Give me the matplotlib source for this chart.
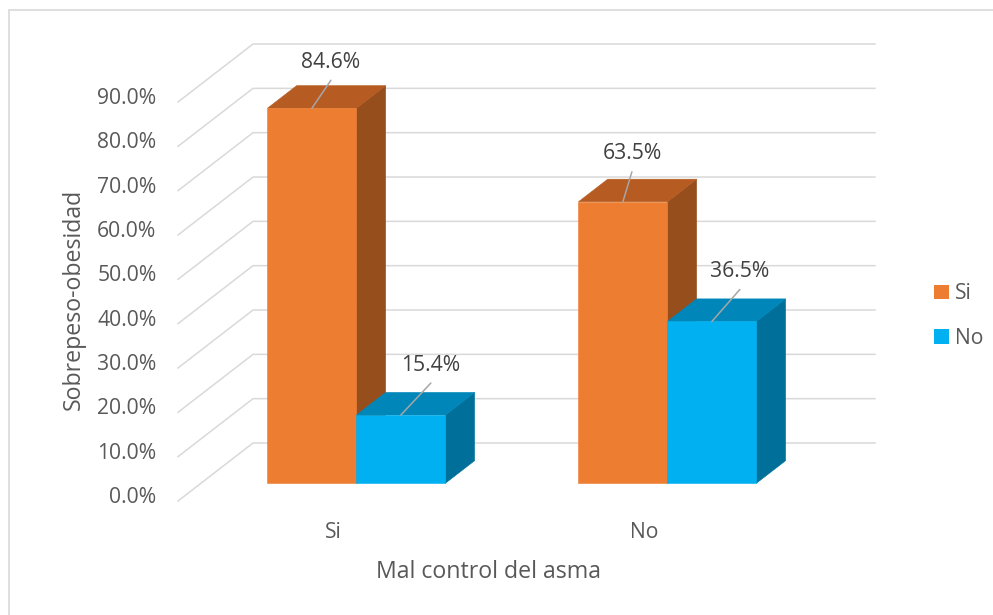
import matplotlib.pyplot as plt
from matplotlib.patches import Polygon, Rectangle, Patch

# data
categories = ["Si", "No"]
series = ["Si", "No"]
values_si = [84.6, 63.5]   # orange series
values_no = [15.4, 36.5]   # blue series
y_ticks = [0, 10, 20, 30, 40, 50, 60, 70, 80, 90]

# styling
front_col = ["#ED7D31", "#00B0F0"]
top_col = ["#B65C22", "#0086B8"]
side_col = ["#974E1D", "#006F99"]
grid_col = "#D9D9D9"
text_col = "#595959"
font = "Open Sans"
fs = 15.2

# pseudo 3d geometry (in data units)
DX = 0.2412     # x shift of full depth
DY = 13.08      # y shift of full depth (percent units)
F = 0.305       # bar front depth fraction
B = 0.695       # bar back depth fraction
W = 0.286       # bar width

# label offsets (pixels) for the leader lines, one per bar
label_offsets = [[(19, -28), (30, -32)], [(9, -30), (28, -32)]]

fig = plt.figure(figsize=(9.93, 6.15), dpi=100)
ax = fig.add_axes([178 / 993, 1 - 501 / 615, 622 / 993, 399 / 615])
ax.set_xlim(0, 2)
ax.set_ylim(0, 90)
ax.axis("off")


def P(x, y, d):
    return (x + d * DX, y + d * DY)


# back wall + side wall gridlines
for t in y_ticks:
    xs, ys = zip(P(0, t, 0), P(0, t, 1), P(2, t, 1))
    ax.plot(xs, ys, color=grid_col, lw=1.1, clip_on=False, zorder=1)
    ax.annotate(f"{t:.1f}%", xy=(0, t), xytext=(-15.5, 2.5), textcoords="offset points",
                ha="right", va="center", fontsize=fs, color=text_col, family=font)

# bars
z = 2
for i, c in enumerate(categories):
    center = i + 0.5
    for s, vals in enumerate([values_si, values_no]):
        v = vals[i]
        x0 = center - W + s * W
        x1 = x0 + W
        front = [P(x0, 0, F), P(x1, 0, F), P(x1, v, F), P(x0, v, F)]
        top = [P(x0, v, F), P(x1, v, F), P(x1, v, B), P(x0, v, B)]
        side = [P(x1, 0, F), P(x1, 0, B), P(x1, v, B), P(x1, v, F)]
        for poly, col in [(side, side_col[s]), (top, top_col[s]), (front, front_col[s])]:
            ax.add_patch(Polygon(poly, closed=True, facecolor=col, edgecolor=col,
                                 lw=0.4, clip_on=False, zorder=z))
        z += 1

        # data label with leader line
        anchor = P((x0 + x1) / 2, v, F)
        dx, dy = label_offsets[i][s]
        ax.annotate("", xy=anchor, xytext=(dx * 0.72, -dy * 0.72), textcoords="offset points",
                    arrowprops=dict(arrowstyle="-", color="#A6A6A6", lw=1.1,
                                    shrinkA=0, shrinkB=0), zorder=20)
        ax.annotate(f"{v:.1f}%", xy=anchor, xytext=(dx * 0.72, (-dy + 18) * 0.72),
                    textcoords="offset points", ha="center", va="center",
                    fontsize=fs, color="#404040", family=font, zorder=21)

    # category label
    ax.annotate(c, xy=(center, 0), xytext=(0, -22.5), textcoords="offset points",
                ha="center", va="center", fontsize=fs, color=text_col, family=font)

# axis titles
fig.text(489 / 993, 1 - 572 / 615, "Mal control del asma", ha="center", va="center",
         fontsize=16.7, color=text_col, family=font)
fig.text(74 / 993, 1 - 299 / 615, "Sobrepeso-obesidad", ha="center", va="center",
         rotation=90, fontsize=16.7, color=text_col, family=font)

# legend
handles = [Patch(facecolor=front_col[0]), Patch(facecolor=front_col[1])]
fig.legend(handles, series, loc="center left", bbox_to_anchor=(915 / 993, 1 - 316 / 615),
           frameon=False, handlelength=0.7, handleheight=0.7, handletextpad=0.3,
           labelspacing=1.1, prop={"family": font, "size": fs}, labelcolor=text_col)

# chart border
fig.add_artist(Rectangle((8.5 / 993, -0.1), 1.2, 1 - 9.5 / 615 + 0.1,
                         transform=fig.transFigure, fill=False, edgecolor=grid_col, lw=1.2))

plt.savefig("out.png", dpi=100)
